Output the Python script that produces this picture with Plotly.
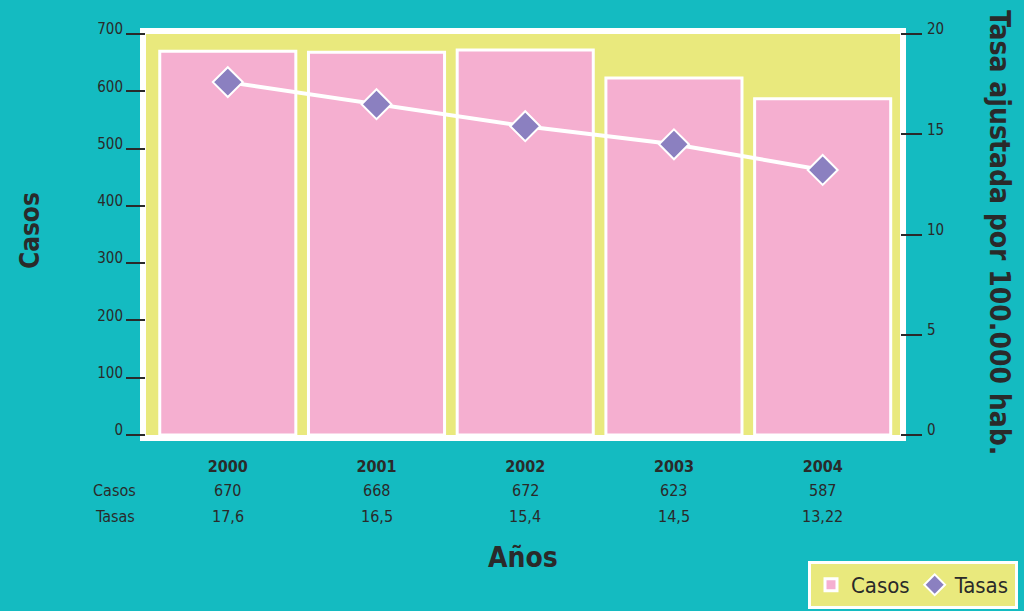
import plotly.graph_objects as go

years = ["2000", "2001", "2002", "2003", "2004"]
casos = [670, 668, 672, 623, 587]
tasas = [17.6, 16.5, 15.4, 14.5, 13.22]
casos_txt = ["670", "668", "672", "623", "587"]
tasas_txt = ["17,6", "16,5", "15,4", "14,5", "13,22"]
left_ticks = [0, 100, 200, 300, 400, 500, 600, 700]
right_ticks = [0, 5, 10, 15, 20]

TEAL = "#14BBC1"
YELLOW = "#E9E97D"
PINK = "#F5AFD0"
PURPLE = "#8B80C0"
DARK = "#2a2a2a"
FONT = "Liberation Sans Narrow, DejaVu Sans Condensed, Arial Narrow, sans-serif"

W, H = 1024, 611
L, R, T, B = 146, 124, 34, 176
pw, ph = W - L - R, H - T - B

xs = list(range(len(years)))

fig = go.Figure()
fig.add_trace(go.Bar(
    x=xs, y=casos, name="Casos",
    marker=dict(color=PINK, line=dict(color="white", width=3)),
    yaxis="y",
))
fig.add_trace(go.Scatter(
    x=xs, y=tasas, name="Tasas", mode="lines", showlegend=False,
    line=dict(color="white", width=4), yaxis="y2",
))
fig.add_trace(go.Scatter(
    x=xs, y=tasas, name="Tasas", mode="markers",
    marker=dict(symbol="diamond", size=23, color=PURPLE, line=dict(color="white", width=2)),
    yaxis="y2",
))

# white frame + yellow plot background
fig.add_shape(type="rect", xref="paper", yref="paper",
              x0=-3 / pw, x1=1 + 3 / pw, y0=-3 / ph, y1=1 + 3 / ph,
              line=dict(color="white", width=6), fillcolor=YELLOW, layer="below")


def ann(x, y, text, size, xref="paper", angle=0):
    return dict(x=x, y=y, xref=xref, yref="paper", text=text, textangle=angle,
                showarrow=False, xanchor="center", yanchor="middle",
                font=dict(size=size, color=DARK, family=FONT))


annotations = []
for i in xs:
    annotations.append(ann(i, -(490 - 435) / ph, casos_txt[i], 16, xref="x"))
    annotations.append(ann(i, -(516 - 435) / ph, tasas_txt[i], 16, xref="x"))
annotations.append(ann((114 - L) / pw, -(490 - 435) / ph, "Casos", 16))
annotations.append(ann((115 - L) / pw, -(516 - 435) / ph, "Tasas", 16))
annotations.append(ann((30 - L) / pw, (435 - 231) / ph, "<b>Casos</b>", 26, angle=-90))
annotations.append(ann((1000 - L) / pw, (435 - 232) / ph, "<b>Tasa ajustada por 100.000 hab.</b>", 28, angle=90))
annotations.append(ann((523 - L) / pw, (435 - 557) / ph, "<b>Años</b>", 28))

fig.update_layout(
    width=W, height=H,
    margin=dict(l=L, r=R, t=T, b=B, autoexpand=False),
    paper_bgcolor=TEAL, plot_bgcolor="rgba(0,0,0,0)",
    bargap=0.085,
    showlegend=True,
    legend=dict(orientation="h", x=(1018 - L) / pw, xanchor="right",
                y=(435 - 561) / ph, yanchor="top",
                bgcolor=YELLOW, bordercolor="white", borderwidth=3,
                font=dict(size=22, color=DARK, family=FONT), itemwidth=30),
    xaxis=dict(range=[-0.55, 4.52], tickmode="array", tickvals=xs, automargin=False,
               ticktext=[f"<b>{y}</b>" for y in years], showgrid=False, zeroline=False,
               ticks="", ticklabelstandoff=20,
               tickfont=dict(size=16, color=DARK, family=FONT)),
    yaxis=dict(range=[0, 700], tickvals=left_ticks, showgrid=False, zeroline=False, automargin=False,
               ticks="outside", ticklen=19, tickwidth=1.5, tickcolor=DARK,
               ticklabelshift=-5, ticklabelstandoff=0,
               tickfont=dict(size=15, color=DARK, family=FONT)),
    yaxis2=dict(range=[0, 20], tickvals=right_ticks, overlaying="y", side="right", automargin=False,
                showgrid=False, zeroline=False,
                ticks="outside", ticklen=21, tickwidth=1.5, tickcolor=DARK,
                ticklabelshift=-5, ticklabelstandoff=2,
                tickfont=dict(size=15, color=DARK, family=FONT)),
    annotations=annotations,
)

fig.write_html("out.html", config={"displayModeBar": False},
               post_script="document.body.style.margin='0px';document.body.style.overflow='hidden';")
